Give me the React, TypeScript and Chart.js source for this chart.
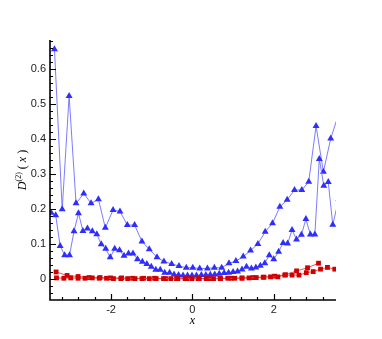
import React, { useEffect, useRef } from "react";
import { Chart, registerables } from "chart.js";

Chart.register(...registerables);

// Upper (coarse) blue triangle series
const blueUpperX = [-3.39, -3.2, -3.03, -2.86, -2.67, -2.49, -2.31, -2.14, -1.95, -1.78, -1.6, -1.42, -1.24, -1.06, -0.87, -0.7, -0.51, -0.33, -0.15, 0.01, 0.18, 0.37, 0.54, 0.72, 0.9, 1.07, 1.25, 1.43, 1.61, 1.79, 1.97, 2.15, 2.33, 2.51, 2.69, 2.86, 3.04, 3.22, 3.4, 3.63];
const blueUpperY = [0.657, 0.2, 0.524, 0.217, 0.245, 0.217, 0.229, 0.147, 0.198, 0.194, 0.155, 0.155, 0.108, 0.086, 0.063, 0.051, 0.044, 0.038, 0.033, 0.033, 0.031, 0.031, 0.033, 0.033, 0.046, 0.052, 0.065, 0.082, 0.101, 0.136, 0.16, 0.207, 0.227, 0.255, 0.255, 0.279, 0.438, 0.307, 0.402, 0.485];

// Lower (fine) blue triangle series
const blueLowerX = [-3.47, -3.36, -3.25, -3.14, -3.02, -2.91, -2.8, -2.69, -2.58, -2.46, -2.35, -2.24, -2.13, -2.02, -1.91, -1.79, -1.68, -1.57, -1.46, -1.35, -1.23, -1.12, -1.01, -0.9, -0.79, -0.68, -0.56, -0.45, -0.34, -0.23, -0.12, -0.01, 0.1, 0.22, 0.33, 0.44, 0.55, 0.66, 0.78, 0.89, 1.0, 1.11, 1.22, 1.33, 1.45, 1.56, 1.67, 1.78, 1.89, 2.0, 2.12, 2.23, 2.34, 2.45, 2.56, 2.68, 2.79, 2.9, 3.01, 3.12, 3.23, 3.34, 3.45, 3.6];
const blueLowerY = [0.19, 0.183, 0.095, 0.069, 0.069, 0.137, 0.189, 0.138, 0.145, 0.137, 0.129, 0.1, 0.087, 0.063, 0.087, 0.083, 0.067, 0.074, 0.074, 0.057, 0.05, 0.044, 0.036, 0.027, 0.027, 0.019, 0.019, 0.014, 0.012, 0.011, 0.011, 0.011, 0.011, 0.012, 0.012, 0.013, 0.014, 0.016, 0.018, 0.019, 0.021, 0.022, 0.028, 0.036, 0.031, 0.034, 0.039, 0.046, 0.069, 0.057, 0.079, 0.104, 0.102, 0.141, 0.114, 0.127, 0.172, 0.128, 0.128, 0.344, 0.267, 0.278, 0.156, 0.23];

// Red square series A (coarser)
const redAX = [-3.35, -3.08, -2.81, -2.54, -2.27, -2.01, -1.74, -1.47, -1.2, -0.93, -0.66, -0.39, -0.13, 0.14, 0.41, 0.68, 0.95, 1.22, 1.49, 1.76, 2.02, 2.29, 2.56, 2.83, 3.1];
const redAY = [0.021, 0.011, 0.008, 0.005, 0.005, 0.004, 0.004, 0.003, 0.003, 0.003, 0.002, 0.002, 0.002, 0.002, 0.002, 0.003, 0.003, 0.004, 0.005, 0.006, 0.009, 0.013, 0.024, 0.033, 0.046];

// Red square series B
const redBX = [-3.34, -3.16, -2.99, -2.81, -2.64, -2.46, -2.29, -2.11, -1.94, -1.76, -1.59, -1.41, -1.24, -1.06, -0.89, -0.71, -0.53, -0.36, -0.18, -0.01, 0.17, 0.34, 0.52, 0.69, 0.87, 1.04, 1.22, 1.39, 1.57, 1.74, 1.92, 2.1, 2.27, 2.45, 2.62, 2.8, 2.97, 3.15, 3.32, 3.5];
const redBY = [0.004, 0.003, 0.004, 0.003, 0.003, 0.004, 0.003, 0.003, 0.002, 0.002, 0.002, 0.002, 0.002, 0.002, 0.002, 0.002, 0.002, 0.002, 0.002, 0.002, 0.002, 0.002, 0.002, 0.002, 0.003, 0.003, 0.003, 0.004, 0.005, 0.006, 0.007, 0.007, 0.012, 0.012, 0.012, 0.019, 0.022, 0.029, 0.034, 0.029];

const xTickValues = [-2, 0, 2];
const yTickValues = [0, 0.1, 0.2, 0.3, 0.4, 0.5, 0.6];
const xTickLabels = ["-2", "0", "2"];
const yTickLabels = ["0", "0.1", "0.2", "0.3", "0.4", "0.5", "0.6"];

const X_MIN = -3.5;
const X_MAX = 3.53;
const Y_MIN = -0.0591;
const Y_MAX = 0.6837;

const toPts = (xs: number[], ys: number[]) => xs.map((x, i) => ({ x, y: ys[i] }));

const BLUE_PT = "#2e2eff";
const BLUE_LINE = "rgba(110,110,255,0.9)";
const RED_PT = "#d00000";
const RED_LINE = "rgba(225,70,70,0.9)";

const axesPlugin = {
  id: "tecAxes",
  afterDraw(chart: any) {
    const { ctx, chartArea, scales } = chart;
    const { left, right, top, bottom } = chartArea;
    const xs = scales.x;
    const ys = scales.y;
    ctx.save();
    ctx.strokeStyle = "#000";
    ctx.lineWidth = 1.6;
    ctx.beginPath();
    ctx.moveTo(left, top);
    ctx.lineTo(left, bottom);
    ctx.lineTo(right, bottom);
    ctx.stroke();

    ctx.lineWidth = 1.2;
    ctx.beginPath();
    // y ticks
    for (let i = -3; i <= 34; i++) {
      const v = i * 0.02;
      if (v < Y_MIN || v > Y_MAX) continue;
      const py = Math.round(ys.getPixelForValue(v)) + 0.5;
      const major = i % 5 === 0;
      ctx.moveTo(left, py);
      ctx.lineTo(left + (major ? 6 : 3), py);
    }
    // x ticks
    for (let i = -9; i <= 9; i++) {
      const v = i * 0.4;
      if (v < X_MIN || v > X_MAX) continue;
      const px = Math.round(xs.getPixelForValue(v)) + 0.5;
      const major = i % 5 === 0;
      ctx.moveTo(px, bottom);
      ctx.lineTo(px, bottom - (major ? 6 : 3));
    }
    ctx.stroke();

    // x title
    ctx.fillStyle = "#000";
    ctx.font = 'italic 12px "Liberation Serif"';
    ctx.textAlign = "center";
    ctx.textBaseline = "alphabetic";
    ctx.fillText("x", xs.getPixelForValue(0), 324);

    // y title: D^(2)( x )
    const parts = [
      { t: "D", f: 'italic 12px "Liberation Serif"', dy: 0 },
      { t: "(2)", f: '8px "Liberation Serif"', dy: -5 },
      { t: " ( ", f: '12px "Liberation Serif"', dy: 0 },
      { t: "x", f: 'italic 12px "Liberation Serif"', dy: 0 },
      { t: " )", f: '12px "Liberation Serif"', dy: 0 },
    ];
    let total = 0;
    const widths = parts.map((p) => {
      ctx.font = p.f;
      const w = ctx.measureText(p.t).width;
      total += w;
      return w;
    });
    ctx.translate(26, (top + bottom) / 2);
    ctx.rotate(-Math.PI / 2);
    ctx.textAlign = "left";
    let cx = -total / 2;
    parts.forEach((p, i) => {
      ctx.font = p.f;
      ctx.fillText(p.t, cx, p.dy);
      cx += widths[i];
    });
    ctx.restore();
  },
};

export default function App() {
  const ref = useRef<HTMLCanvasElement | null>(null);
  useEffect(() => {
    if (!ref.current) return;
    const ds = (data: any, style: string, radius: number, pt: string, line: string) => ({
      data,
      showLine: true,
      borderColor: line,
      borderWidth: 1,
      backgroundColor: pt,
      pointBackgroundColor: pt,
      pointBorderColor: pt,
      pointBorderWidth: 0,
      pointStyle: style,
      pointRadius: radius,
      clip: 0,
    });
    const chart = new Chart(ref.current, {
      type: "scatter",
      data: {
        datasets: [
          ds(toPts(redBX, redBY), "rect", 3.4, RED_PT, RED_LINE),
          ds(toPts(redAX, redAY), "rect", 3.4, RED_PT, RED_LINE),
          ds(toPts(blueLowerX, blueLowerY), "triangle", 4, BLUE_PT, BLUE_LINE),
          ds(toPts(blueUpperX, blueUpperY), "triangle", 4, BLUE_PT, BLUE_LINE),
        ] as any,
      },
      options: {
        animation: false,
        responsive: false,
        maintainAspectRatio: false,
        layout: { padding: { left: 0, right: 46, top: 40, bottom: 0 } },
        plugins: { legend: { display: false }, tooltip: { enabled: false } },
        scales: {
          x: {
            type: "linear",
            min: X_MIN,
            max: X_MAX,
            grid: { display: false, drawTicks: false },
            border: { display: false },
            afterFit: (s: any) => {
              s.height = 39;
            },
            afterBuildTicks: (s: any) => {
              s.ticks = xTickValues.map((v) => ({ value: v }));
            },
            ticks: {
              padding: 3,
              color: "#222",
              font: { family: '"Liberation Sans"', size: 11 },
              callback: (v: any) => {
                const i = xTickValues.indexOf(Number(v));
                return i >= 0 ? xTickLabels[i] : "";
              },
            },
          },
          y: {
            type: "linear",
            min: Y_MIN,
            max: Y_MAX,
            grid: { display: false, drawTicks: false },
            border: { display: false },
            afterFit: (s: any) => {
              s.width = 50;
            },
            afterBuildTicks: (s: any) => {
              s.ticks = yTickValues.map((v) => ({ value: v }));
            },
            ticks: {
              padding: 4,
              color: "#222",
              font: { family: '"Liberation Sans"', size: 11 },
              callback: (v: any) => {
                const i = yTickValues.findIndex((t) => Math.abs(t - Number(v)) < 1e-9);
                return i >= 0 ? yTickLabels[i] : "";
              },
            },
          },
        },
      },
      plugins: [axesPlugin],
    });
    return () => chart.destroy();
  }, []);
  return (
    <div style={{ position: "absolute", left: 0, top: 0, width: 382, height: 339, background: "#fff" }}>
      <canvas ref={ref} width={382} height={339} style={{ display: "block", width: 382, height: 339 }} />
    </div>
  );
}
